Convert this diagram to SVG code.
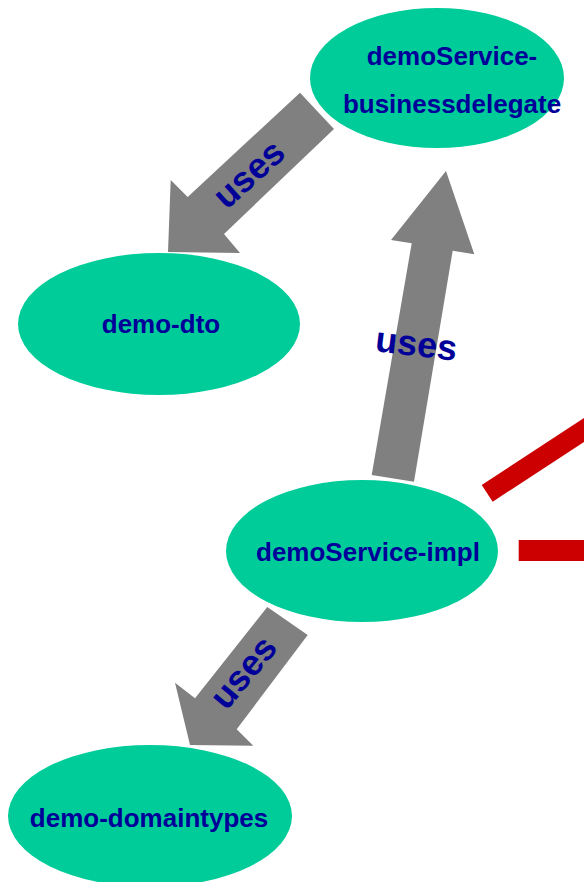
<svg xmlns="http://www.w3.org/2000/svg" width="584" height="882" viewBox="0 0 584 882">
<style>
.node{fill:#00CC99;}
.nt{font-family:"Liberation Sans",Arial,sans-serif;font-weight:bold;font-size:26px;fill:#000099;text-anchor:middle;}
.arrow{fill:#808080;}
.lbl{font-family:"Liberation Sans",Arial,sans-serif;font-weight:bold;font-size:36px;fill:#000099;text-anchor:middle;}
.red{stroke:#CC0000;stroke-width:20;fill:none;}
</style>
<rect width="584" height="882" fill="#FFFFFF"/>
<g id="connectors">
<polygon class="arrow" points="300,92.7 334,129 224,234 240,253 168,252 170.7,180 187.7,197"/>
<polygon class="arrow" points="446,171 474.3,254.3 452.7,250.7 414,481.7 371.7,475 411.7,243.3 391,240"/>
<polygon class="arrow" points="267.3,607 307.7,635 236.7,729.3 253.3,745.7 190,745 175,682.7 195,698.3"/>
<line class="red" x1="487.2" y1="493.3" x2="620" y2="406.4"/>
<line class="red" x1="518.7" y1="550.5" x2="600" y2="550.5" style="stroke-width:21"/>
<text class="lbl" transform="translate(257,183) rotate(-42)">uses</text>
<text class="lbl" transform="translate(415,356) rotate(7)">uses</text>
<text class="lbl" transform="translate(252.5,680) rotate(-50)">uses</text>
</g>
<g id="node-businessdelegate">
<ellipse class="node" cx="437" cy="78" rx="127" ry="70"/>
<text class="nt" x="452" y="65">demoService-</text>
<text class="nt" x="452" y="113">businessdelegate</text>
</g>
<g id="node-dto">
<ellipse class="node" cx="159" cy="324" rx="141" ry="71"/>
<text class="nt" x="161" y="333">demo-dto</text>
</g>
<g id="node-impl">
<ellipse class="node" cx="362" cy="551" rx="136" ry="71"/>
<text class="nt" x="368" y="561">demoService-impl</text>
</g>
<g id="node-domaintypes">
<ellipse class="node" cx="150" cy="816" rx="142" ry="71"/>
<text class="nt" x="149" y="827">demo-domaintypes</text>
</g>
</svg>
